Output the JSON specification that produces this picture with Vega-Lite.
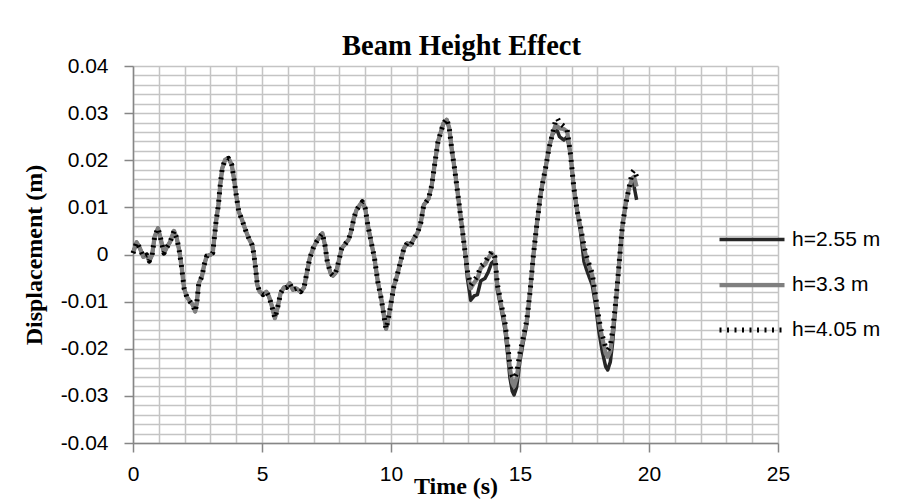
{
  "$schema": "https://vega.github.io/schema/vega-lite/v6.json",
  "autosize": {"type": "none"},
  "width": 645,
  "height": 377,
  "padding": {"left": 133, "top": 66, "right": 122, "bottom": 59},
  "background": "#ffffff",
  "title": {
    "text": "Beam Height Effect",
    "font": "Liberation Serif",
    "fontSize": 28.5,
    "fontWeight": "bold",
    "color": "#000000",
    "anchor": "middle",
    "baseline": "alphabetic",
    "offset": -28,
    "dx": 6
  },
  "data": {
    "values": [
      {"t": 0.00, "s255": 0.0003, "s33": 0.0003, "s405": 0.0003},
      {"t": 0.14, "s255": 0.0026, "s33": 0.0026, "s405": 0.0026},
      {"t": 0.27, "s255": 0.0013, "s33": 0.0013, "s405": 0.0013},
      {"t": 0.40, "s255": -0.0005, "s33": -0.0005, "s405": -0.0005},
      {"t": 0.53, "s255": -0.0001, "s33": -0.0001, "s405": -0.0001},
      {"t": 0.63, "s255": -0.0014, "s33": -0.0014, "s405": -0.0014},
      {"t": 0.74, "s255": -0.0001, "s33": -0.0001, "s405": -0.0001},
      {"t": 0.84, "s255": 0.0038, "s33": 0.0038, "s405": 0.0038},
      {"t": 0.97, "s255": 0.0056, "s33": 0.0056, "s405": 0.0056},
      {"t": 1.07, "s255": 0.0034, "s33": 0.0034, "s405": 0.0034},
      {"t": 1.20, "s255": 0.0003, "s33": 0.0003, "s405": 0.0003},
      {"t": 1.31, "s255": 0.0015, "s33": 0.0015, "s405": 0.0015},
      {"t": 1.44, "s255": 0.0027, "s33": 0.0027, "s405": 0.0027},
      {"t": 1.59, "s255": 0.0050, "s33": 0.0050, "s405": 0.0050},
      {"t": 1.70, "s255": 0.0034, "s33": 0.0034, "s405": 0.0034},
      {"t": 1.80, "s255": 0.0006, "s33": 0.0006, "s405": 0.0006},
      {"t": 1.89, "s255": -0.0029, "s33": -0.0029, "s405": -0.0029},
      {"t": 1.98, "s255": -0.0072, "s33": -0.0072, "s405": -0.0072},
      {"t": 2.08, "s255": -0.0089, "s33": -0.0089, "s405": -0.0089},
      {"t": 2.21, "s255": -0.0100, "s33": -0.0100, "s405": -0.0100},
      {"t": 2.32, "s255": -0.0107, "s33": -0.0107, "s405": -0.0107},
      {"t": 2.41, "s255": -0.0121, "s33": -0.0121, "s405": -0.0121},
      {"t": 2.47, "s255": -0.0104, "s33": -0.0104, "s405": -0.0104},
      {"t": 2.55, "s255": -0.0061, "s33": -0.0061, "s405": -0.0061},
      {"t": 2.67, "s255": -0.0047, "s33": -0.0047, "s405": -0.0047},
      {"t": 2.76, "s255": -0.0022, "s33": -0.0022, "s405": -0.0022},
      {"t": 2.86, "s255": -0.0003, "s33": -0.0003, "s405": -0.0003},
      {"t": 2.99, "s255": -0.0001, "s33": -0.0001, "s405": -0.0001},
      {"t": 3.09, "s255": 0.0003, "s33": 0.0003, "s405": 0.0003},
      {"t": 3.15, "s255": 0.0034, "s33": 0.0034, "s405": 0.0034},
      {"t": 3.22, "s255": 0.0070, "s33": 0.0070, "s405": 0.0070},
      {"t": 3.31, "s255": 0.0105, "s33": 0.0105, "s405": 0.0105},
      {"t": 3.38, "s255": 0.0147, "s33": 0.0147, "s405": 0.0147},
      {"t": 3.46, "s255": 0.0183, "s33": 0.0183, "s405": 0.0183},
      {"t": 3.57, "s255": 0.0201, "s33": 0.0201, "s405": 0.0201},
      {"t": 3.70, "s255": 0.0204, "s33": 0.0204, "s405": 0.0204},
      {"t": 3.83, "s255": 0.0190, "s33": 0.0190, "s405": 0.0190},
      {"t": 3.91, "s255": 0.0162, "s33": 0.0162, "s405": 0.0162},
      {"t": 4.00, "s255": 0.0126, "s33": 0.0126, "s405": 0.0126},
      {"t": 4.10, "s255": 0.0091, "s33": 0.0091, "s405": 0.0091},
      {"t": 4.23, "s255": 0.0073, "s33": 0.0073, "s405": 0.0073},
      {"t": 4.36, "s255": 0.0052, "s33": 0.0052, "s405": 0.0052},
      {"t": 4.49, "s255": 0.0034, "s33": 0.0034, "s405": 0.0034},
      {"t": 4.62, "s255": 0.0020, "s33": 0.0020, "s405": 0.0020},
      {"t": 4.69, "s255": -0.0001, "s33": -0.0001, "s405": -0.0001},
      {"t": 4.75, "s255": -0.0029, "s33": -0.0029, "s405": -0.0029},
      {"t": 4.82, "s255": -0.0065, "s33": -0.0065, "s405": -0.0065},
      {"t": 4.91, "s255": -0.0079, "s33": -0.0079, "s405": -0.0079},
      {"t": 5.04, "s255": -0.0085, "s33": -0.0085, "s405": -0.0085},
      {"t": 5.17, "s255": -0.0079, "s33": -0.0079, "s405": -0.0079},
      {"t": 5.27, "s255": -0.0089, "s33": -0.0089, "s405": -0.0089},
      {"t": 5.37, "s255": -0.0107, "s33": -0.0107, "s405": -0.0107},
      {"t": 5.50, "s255": -0.0135, "s33": -0.0135, "s405": -0.0135},
      {"t": 5.60, "s255": -0.0114, "s33": -0.0114, "s405": -0.0114},
      {"t": 5.72, "s255": -0.0082, "s33": -0.0082, "s405": -0.0082},
      {"t": 5.85, "s255": -0.0070, "s33": -0.0070, "s405": -0.0070},
      {"t": 5.95, "s255": -0.0070, "s33": -0.0070, "s405": -0.0070},
      {"t": 6.07, "s255": -0.0061, "s33": -0.0061, "s405": -0.0061},
      {"t": 6.20, "s255": -0.0075, "s33": -0.0075, "s405": -0.0075},
      {"t": 6.33, "s255": -0.0072, "s33": -0.0072, "s405": -0.0072},
      {"t": 6.50, "s255": -0.0079, "s33": -0.0079, "s405": -0.0079},
      {"t": 6.63, "s255": -0.0070, "s33": -0.0070, "s405": -0.0070},
      {"t": 6.72, "s255": -0.0044, "s33": -0.0044, "s405": -0.0044},
      {"t": 6.85, "s255": -0.0008, "s33": -0.0008, "s405": -0.0008},
      {"t": 6.98, "s255": 0.0013, "s33": 0.0013, "s405": 0.0013},
      {"t": 7.11, "s255": 0.0027, "s33": 0.0027, "s405": 0.0027},
      {"t": 7.24, "s255": 0.0038, "s33": 0.0038, "s405": 0.0038},
      {"t": 7.34, "s255": 0.0045, "s33": 0.0045, "s405": 0.0045},
      {"t": 7.44, "s255": 0.0020, "s33": 0.0020, "s405": 0.0020},
      {"t": 7.53, "s255": -0.0015, "s33": -0.0015, "s405": -0.0015},
      {"t": 7.66, "s255": -0.0040, "s33": -0.0040, "s405": -0.0040},
      {"t": 7.75, "s255": -0.0045, "s33": -0.0045, "s405": -0.0045},
      {"t": 7.84, "s255": -0.0040, "s33": -0.0040, "s405": -0.0040},
      {"t": 7.91, "s255": -0.0029, "s33": -0.0029, "s405": -0.0029},
      {"t": 8.00, "s255": -0.0008, "s33": -0.0008, "s405": -0.0008},
      {"t": 8.09, "s255": 0.0013, "s33": 0.0013, "s405": 0.0013},
      {"t": 8.22, "s255": 0.0022, "s33": 0.0022, "s405": 0.0022},
      {"t": 8.35, "s255": 0.0031, "s33": 0.0031, "s405": 0.0031},
      {"t": 8.45, "s255": 0.0048, "s33": 0.0048, "s405": 0.0048},
      {"t": 8.56, "s255": 0.0077, "s33": 0.0077, "s405": 0.0077},
      {"t": 8.66, "s255": 0.0094, "s33": 0.0094, "s405": 0.0094},
      {"t": 8.79, "s255": 0.0105, "s33": 0.0105, "s405": 0.0105},
      {"t": 8.89, "s255": 0.0112, "s33": 0.0112, "s405": 0.0112},
      {"t": 9.00, "s255": 0.0098, "s33": 0.0098, "s405": 0.0098},
      {"t": 9.10, "s255": 0.0063, "s33": 0.0063, "s405": 0.0063},
      {"t": 9.23, "s255": 0.0027, "s33": 0.0027, "s405": 0.0027},
      {"t": 9.36, "s255": -0.0008, "s33": -0.0008, "s405": -0.0008},
      {"t": 9.49, "s255": -0.0058, "s33": -0.0058, "s405": -0.0058},
      {"t": 9.62, "s255": -0.0093, "s33": -0.0093, "s405": -0.0093},
      {"t": 9.72, "s255": -0.0128, "s33": -0.0128, "s405": -0.0128},
      {"t": 9.81, "s255": -0.0158, "s33": -0.0158, "s405": -0.0158},
      {"t": 9.90, "s255": -0.0135, "s33": -0.0135, "s405": -0.0135},
      {"t": 10.01, "s255": -0.0100, "s33": -0.0100, "s405": -0.0100},
      {"t": 10.11, "s255": -0.0068, "s33": -0.0068, "s405": -0.0068},
      {"t": 10.24, "s255": -0.0044, "s33": -0.0044, "s405": -0.0044},
      {"t": 10.37, "s255": -0.0015, "s33": -0.0015, "s405": -0.0015},
      {"t": 10.50, "s255": 0.0013, "s33": 0.0013, "s405": 0.0013},
      {"t": 10.63, "s255": 0.0024, "s33": 0.0024, "s405": 0.0024},
      {"t": 10.76, "s255": 0.0020, "s33": 0.0020, "s405": 0.0020},
      {"t": 10.89, "s255": 0.0034, "s33": 0.0034, "s405": 0.0034},
      {"t": 11.02, "s255": 0.0045, "s33": 0.0045, "s405": 0.0045},
      {"t": 11.15, "s255": 0.0066, "s33": 0.0066, "s405": 0.0066},
      {"t": 11.27, "s255": 0.0105, "s33": 0.0105, "s405": 0.0105},
      {"t": 11.46, "s255": 0.0119, "s33": 0.0119, "s405": 0.0119},
      {"t": 11.58, "s255": 0.0147, "s33": 0.0147, "s405": 0.0147},
      {"t": 11.69, "s255": 0.0190, "s33": 0.0190, "s405": 0.0190},
      {"t": 11.82, "s255": 0.0239, "s33": 0.0239, "s405": 0.0239},
      {"t": 11.90, "s255": 0.0254, "s33": 0.0254, "s405": 0.0254},
      {"t": 12.03, "s255": 0.0278, "s33": 0.0278, "s405": 0.0278},
      {"t": 12.16, "s255": 0.0286, "s33": 0.0286, "s405": 0.0288},
      {"t": 12.26, "s255": 0.0268, "s33": 0.0268, "s405": 0.0268},
      {"t": 12.35, "s255": 0.0225, "s33": 0.0225, "s405": 0.0225},
      {"t": 12.48, "s255": 0.0176, "s33": 0.0176, "s405": 0.0176},
      {"t": 12.61, "s255": 0.0119, "s33": 0.0119, "s405": 0.0119},
      {"t": 12.74, "s255": 0.0063, "s33": 0.0063, "s405": 0.0063},
      {"t": 12.87, "s255": 0.0006, "s33": 0.0006, "s405": 0.0006},
      {"t": 12.96, "s255": -0.0050, "s33": -0.0037, "s405": -0.0035},
      {"t": 13.09, "s255": -0.0097, "s33": -0.0072, "s405": -0.0065},
      {"t": 13.22, "s255": -0.0088, "s33": -0.0060, "s405": -0.0055},
      {"t": 13.35, "s255": -0.0085, "s33": -0.0051, "s405": -0.0046},
      {"t": 13.48, "s255": -0.0056, "s33": -0.0029, "s405": -0.0025},
      {"t": 13.64, "s255": -0.0051, "s33": -0.0021, "s405": -0.0017},
      {"t": 13.77, "s255": -0.0037, "s33": -0.0008, "s405": -0.0004},
      {"t": 13.90, "s255": -0.0018, "s33": 0.0003, "s405": 0.0006},
      {"t": 14.03, "s255": -0.0012, "s33": -0.0008, "s405": -0.0006},
      {"t": 14.12, "s255": -0.0075, "s33": -0.0065, "s405": -0.0062},
      {"t": 14.29, "s255": -0.0120, "s33": -0.0114, "s405": -0.0110},
      {"t": 14.42, "s255": -0.0160, "s33": -0.0150, "s405": -0.0146},
      {"t": 14.51, "s255": -0.0206, "s33": -0.0192, "s405": -0.0186},
      {"t": 14.61, "s255": -0.0262, "s33": -0.0242, "s405": -0.0235},
      {"t": 14.70, "s255": -0.0290, "s33": -0.0272, "s405": -0.0258},
      {"t": 14.77, "s255": -0.0298, "s33": -0.0280, "s405": -0.0263},
      {"t": 14.87, "s255": -0.0282, "s33": -0.0262, "s405": -0.0252},
      {"t": 15.00, "s255": -0.0225, "s33": -0.0213, "s405": -0.0208},
      {"t": 15.13, "s255": -0.0185, "s33": -0.0178, "s405": -0.0175},
      {"t": 15.26, "s255": -0.0148, "s33": -0.0143, "s405": -0.0140},
      {"t": 15.39, "s255": -0.0079, "s33": -0.0079, "s405": -0.0079},
      {"t": 15.52, "s255": -0.0001, "s33": -0.0001, "s405": -0.0001},
      {"t": 15.65, "s255": 0.0063, "s33": 0.0063, "s405": 0.0063},
      {"t": 15.78, "s255": 0.0120, "s33": 0.0120, "s405": 0.0120},
      {"t": 15.86, "s255": 0.0147, "s33": 0.0147, "s405": 0.0147},
      {"t": 15.99, "s255": 0.0183, "s33": 0.0183, "s405": 0.0183},
      {"t": 16.12, "s255": 0.0225, "s33": 0.0225, "s405": 0.0225},
      {"t": 16.25, "s255": 0.0254, "s33": 0.0254, "s405": 0.0254},
      {"t": 16.38, "s255": 0.0264, "s33": 0.0275, "s405": 0.0285},
      {"t": 16.45, "s255": 0.0262, "s33": 0.0272, "s405": 0.0289},
      {"t": 16.53, "s255": 0.0250, "s33": 0.0268, "s405": 0.0280},
      {"t": 16.70, "s255": 0.0243, "s33": 0.0266, "s405": 0.0272},
      {"t": 16.83, "s255": 0.0250, "s33": 0.0261, "s405": 0.0264},
      {"t": 16.96, "s255": 0.0211, "s33": 0.0211, "s405": 0.0211},
      {"t": 17.09, "s255": 0.0140, "s33": 0.0140, "s405": 0.0140},
      {"t": 17.22, "s255": 0.0091, "s33": 0.0091, "s405": 0.0091},
      {"t": 17.35, "s255": 0.0046, "s33": 0.0056, "s405": 0.0058},
      {"t": 17.48, "s255": -0.0015, "s33": 0.0013, "s405": 0.0018},
      {"t": 17.61, "s255": -0.0037, "s33": -0.0015, "s405": -0.0010},
      {"t": 17.80, "s255": -0.0065, "s33": -0.0044, "s405": -0.0040},
      {"t": 17.93, "s255": -0.0107, "s33": -0.0093, "s405": -0.0088},
      {"t": 18.06, "s255": -0.0164, "s33": -0.0143, "s405": -0.0138},
      {"t": 18.19, "s255": -0.0206, "s33": -0.0178, "s405": -0.0172},
      {"t": 18.32, "s255": -0.0238, "s33": -0.0210, "s405": -0.0198},
      {"t": 18.40, "s255": -0.0245, "s33": -0.0217, "s405": -0.0203},
      {"t": 18.50, "s255": -0.0228, "s33": -0.0205, "s405": -0.0195},
      {"t": 18.58, "s255": -0.0192, "s33": -0.0171, "s405": -0.0165},
      {"t": 18.68, "s255": -0.0130, "s33": -0.0121, "s405": -0.0118},
      {"t": 18.77, "s255": -0.0065, "s33": -0.0065, "s405": -0.0065},
      {"t": 18.87, "s255": -0.0001, "s33": -0.0001, "s405": -0.0001},
      {"t": 18.96, "s255": 0.0056, "s33": 0.0056, "s405": 0.0056},
      {"t": 19.09, "s255": 0.0105, "s33": 0.0105, "s405": 0.0105},
      {"t": 19.22, "s255": 0.0140, "s33": 0.0140, "s405": 0.0140},
      {"t": 19.35, "s255": 0.0158, "s33": 0.0162, "s405": 0.0174},
      {"t": 19.42, "s255": 0.0145, "s33": 0.0165, "s405": 0.0179},
      {"t": 19.52, "s255": 0.0116, "s33": 0.0144, "s405": 0.0165}
    ]
  },
  "transform": [
    {"fold": ["s255", "s33", "s405"], "as": ["series", "d"]}
  ],
  "mark": {"type": "line", "strokeCap": "butt", "strokeJoin": "round"},
  "encoding": {
    "x": {
      "field": "t",
      "type": "quantitative",
      "scale": {"domain": [0, 25], "nice": false, "zero": false},
      "axis": {
        "values": [0,1,2,3,4,5,6,7,8,9,10,11,12,13,14,15,16,17,18,19,20,21,22,23,24,25],
        "labelExpr": "datum.value % 5 == 0 ? datum.label : ''",
        "tickColor": {"condition": {"test": "datum.value % 5 == 0", "value": "#868686"}, "value": "transparent"},
        "title": "Time (s)",
        "titlePadding": -10,
        "labelPadding": 11
      }
    },
    "y": {
      "field": "d",
      "type": "quantitative",
      "scale": {"domain": [-0.04, 0.04], "nice": false, "zero": false},
      "axis": {
        "values": [-0.04,-0.038,-0.036,-0.034,-0.032,-0.03,-0.028,-0.026,-0.024,-0.022,-0.02,-0.018,-0.016,-0.014,-0.012,-0.01,-0.008,-0.006,-0.004,-0.002,0,0.002,0.004,0.006,0.008,0.01,0.012,0.014,0.016,0.018,0.02,0.022,0.024,0.026,0.028,0.03,0.032,0.034,0.036,0.038,0.04],
        "labelExpr": "abs(round(datum.value*1000)) % 10 == 0 ? (datum.value < -0.0001 ? '-' : '') + format(abs(datum.value), '.2~f') : ''",
        "tickColor": {"condition": {"test": "abs(round(datum.value*1000)) % 10 == 0", "value": "#868686"}, "value": "transparent"},
        "title": "Displacement (m)",
        "titlePadding": 14,
        "labelPadding": 16
      }
    },
    "color": {
      "field": "series",
      "type": "nominal",
      "scale": {"domain": ["s255", "s33", "s405"], "range": ["#262626", "#7f7f7f", "#000000"]},
      "legend": {
        "labelExpr": "datum.label == 's255' ? 'h=2.55 m' : datum.label == 's33' ? 'h=3.3 m' : 'h=4.05 m'"
      }
    },
    "strokeWidth": {
      "field": "series",
      "type": "nominal",
      "scale": {"domain": ["s255", "s33", "s405"], "range": [3.5, 5, 2]},
      "legend": {
        "labelExpr": "datum.label == 's255' ? 'h=2.55 m' : datum.label == 's33' ? 'h=3.3 m' : 'h=4.05 m'"
      }
    },
    "strokeDash": {
      "field": "series",
      "type": "nominal",
      "scale": {"domain": ["s255", "s33", "s405"], "range": [[1, 0], [1, 0], [2, 5.5]]},
      "legend": {
        "labelExpr": "datum.label == 's255' ? 'h=2.55 m' : datum.label == 's33' ? 'h=3.3 m' : 'h=4.05 m'"
      }
    },
    "order": {"field": "series", "type": "nominal"}
  },
  "config": {
    "view": {"stroke": null},
    "axis": {
      "grid": true,
      "gridColor": "#c4c4c4",
      "gridWidth": 1.5,
      "domainColor": "#868686",
      "domainWidth": 1.5,
      "tickSize": 9,
      "tickWidth": 1.5,
      "labelFont": "Liberation Sans",
      "labelFontSize": 21,
      "labelColor": "#000000",
      "labelOverlap": false,
      "labelBound": false,
      "labelFlush": false,
      "titleFont": "Liberation Serif",
      "titleFontSize": 24,
      "titleFontWeight": "bold",
      "titleColor": "#000000"
    },
    "legend": {
      "orient": "none",
      "legendX": 584,
      "legendY": 139,
      "title": null,
      "padding": 0,
      "labelFont": "Liberation Sans",
      "labelFontSize": 21,
      "labelColor": "#000000",
      "labelOffset": 5,
      "symbolType": "stroke",
      "symbolSize": 4225,
      "rowPadding": -24
    }
  }
}
